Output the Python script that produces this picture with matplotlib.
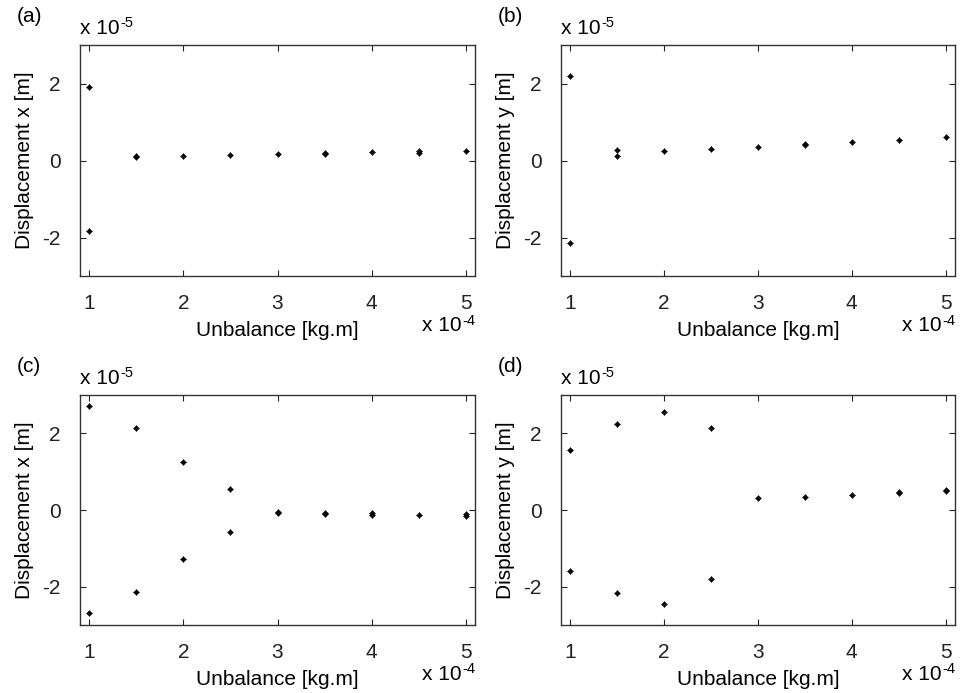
import matplotlib
matplotlib.use('Agg')
import matplotlib.pyplot as plt
import numpy as np

plt.rcParams['font.family'] = ['Liberation Sans', 'DejaVu Sans']
plt.rcParams['axes.unicode_minus'] = False

# unbalance in 1e-4 kg.m, displacement in 1e-5 m
xa = [1, 1, 1.5, 1.5, 2, 2.5, 3, 3.5, 3.5, 4, 4.5, 4.5, 5]
ya = [1.90, -1.82, 0.09, 0.11, 0.11, 0.15, 0.17, 0.17, 0.19, 0.21, 0.20, 0.25, 0.24]

xb = [1, 1, 1.5, 1.5, 2, 2.5, 3, 3.5, 3.5, 4, 4.5, 5]
yb = [2.19, -2.13, 0.26, 0.11, 0.24, 0.30, 0.36, 0.41, 0.44, 0.47, 0.54, 0.60]

xc = [1, 1, 1.5, 1.5, 2, 2, 2.5, 2.5, 3, 3, 3.5, 3.5, 4, 4, 4.5, 5, 5]
yc = [2.72, -2.69, 2.13, -2.14, 1.24, -1.29, 0.54, -0.58, -0.04, -0.07,
      -0.08, -0.11, -0.07, -0.13, -0.12, -0.10, -0.16]

xd = [1, 1, 1.5, 1.5, 2, 2, 2.5, 2.5, 3, 3.5, 4, 4.5, 4.5, 5, 5]
yd = [1.56, -1.59, 2.24, -2.17, 2.55, -2.44, 2.15, -1.80, 0.30, 0.35, 0.40,
      0.44, 0.46, 0.49, 0.51]

panels = [('(a)', xa, ya, 'Displacement x [m]'),
          ('(b)', xb, yb, 'Displacement y [m]'),
          ('(c)', xc, yc, 'Displacement x [m]'),
          ('(d)', xd, yd, 'Displacement y [m]')]

W, H = 965, 693
fig = plt.figure(figsize=(W/100, H/100), dpi=100)

boxes = [(80, 45, 475, 276), (561, 45, 955, 276),
         (80, 395, 475, 625), (561, 395, 955, 625)]

fs = 15


def exp_label(ax, x, y, expo, ha, va):
    # "x 10" followed by a raised exponent with a plain hyphen
    t = ax.text(x, y, 'x 10', transform=ax.transAxes, fontsize=fs, ha=ha, va=va)
    ax.annotate(expo, xy=(1, 1), xycoords=t, xytext=(0.5, 2),
                textcoords='offset points', fontsize=fs*0.7, ha='left', va='top')
    return t


for (tag, x, y, ylab), (l, t, r, b) in zip(panels, boxes):
    ax = fig.add_axes([l/W, 1 - b/H, (r - l)/W, (b - t)/H])
    ax.plot(np.array(x)*1e-4, np.array(y)*1e-5, 'kD', ms=2.6, mew=0.6)
    ax.plot(np.array(x)*1e-4, np.array(y)*1e-5, 'k+', ms=5, mew=0.8)
    ax.set_xlim(0.9e-4, 5.1e-4)
    ax.set_ylim(-3e-5, 3e-5)
    ax.set_xticks(np.arange(1, 6)*1e-4)
    ax.set_xticklabels(['1', '2', '3', '4', '5'])
    ax.set_yticks([-2e-5, 0, 2e-5])
    ax.set_yticklabels(['-2', '0', '2'])
    ax.tick_params(direction='in', top=True, right=True, labelsize=fs,
                   length=4, width=0.8, pad=13, colors='#222222')
    ax.tick_params(axis='y', pad=14)
    for s in ax.spines.values():
        s.set_color('#333333')
        s.set_linewidth(1.0)
    ax.set_xlabel('Unbalance [kg.m]', fontsize=fs, labelpad=6)
    ax.set_ylabel(ylab, fontsize=fs, labelpad=6)
    exp_label(ax, 0, 1.03, '-5', 'left', 'bottom')
    # place the x exponent so its right edge sits near the axes edge
    exp_label(ax, 0.865, -0.175, '-4', 'left', 'top')
    fig.text((l - 63)/W, 1 - (t - 28)/H, tag, fontsize=fs, ha='left', va='center')

fig.savefig('out.png', dpi=100)
